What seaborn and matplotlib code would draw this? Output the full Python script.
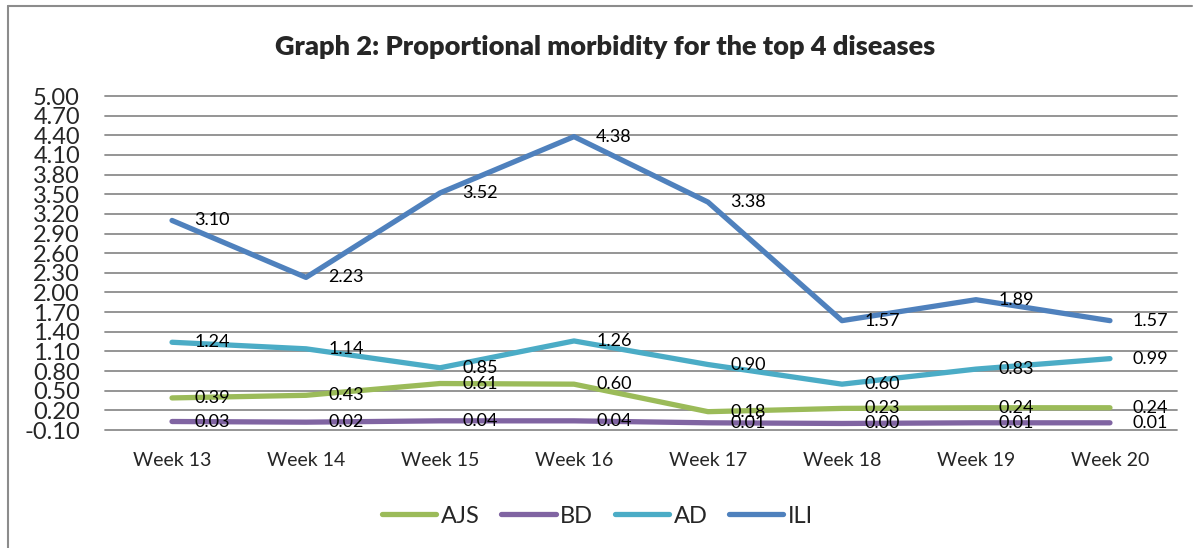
import pandas as pd
import matplotlib
matplotlib.use("Agg")
import matplotlib.pyplot as plt
import seaborn as sns
import numpy as np
from matplotlib.lines import Line2D
from matplotlib.ticker import FormatStrFormatter

weeks = ["Week 13", "Week 14", "Week 15", "Week 16", "Week 17", "Week 18", "Week 19", "Week 20"]
ajs = [0.39, 0.43, 0.61, 0.60, 0.18, 0.23, 0.24, 0.24]
bd = [0.03, 0.02, 0.04, 0.04, 0.01, 0.00, 0.01, 0.01]
ad = [1.24, 1.14, 0.85, 1.26, 0.90, 0.60, 0.83, 0.99]
ili = [3.10, 2.23, 3.52, 4.38, 3.38, 1.57, 1.89, 1.57]

diseases = ["AJS", "BD", "AD", "ILI"]
colors = {"AJS": "#9BBB59", "BD": "#8064A2", "AD": "#4BACC6", "ILI": "#4F81BD"}

# long-form table for seaborn
df = pd.DataFrame({"week": weeks, "AJS": ajs, "BD": bd, "AD": ad, "ILI": ili})
df_long = df.melt(id_vars="week", var_name="disease", value_name="value")
df_long["x"] = df_long["week"].map({w: i for i, w in enumerate(weeks)})

sns.set_theme(style="white")
plt.rcParams['font.family'] = ['Lato', 'DejaVu Sans']
plt.rcParams['axes.unicode_minus'] = False

fig = plt.figure(figsize=(11.95, 5.48), dpi=100)
ax = fig.add_axes([0.0879, 0.2153, 0.897, 0.6095])

sns.lineplot(data=df_long, x="x", y="value", hue="disease", hue_order=diseases,
             palette=colors, linewidth=3.8, ax=ax, legend=False,
             solid_capstyle='round', zorder=3)

# data labels to the right of each point
for name in diseases:
    vals = df[name].values
    for i, v in enumerate(vals):
        ax.annotate(f"{v:.2f}", (i, v), xytext=(16, 0), textcoords='offset points',
                    ha='left', va='center', fontsize=13, color='black', zorder=5)

ax.set_ylim(-0.10, 5.00)
ax.set_yticks(np.arange(-0.10, 5.01, 0.30))
ax.yaxis.set_major_formatter(FormatStrFormatter('%.2f'))
ax.set_xlim(-0.5, len(weeks) - 0.5)
ax.set_xticks(range(len(weeks)))
ax.set_xticklabels(weeks)
ax.tick_params(axis='y', labelsize=17, pad=18, length=0)
ax.tick_params(axis='x', labelsize=14, pad=16, length=0)
ax.set_xlabel("")
ax.set_ylabel("")
for s in ax.spines.values():
    s.set_visible(False)
ax.yaxis.grid(True, color='#8c8c8c', linewidth=1.3)
ax.xaxis.grid(False)
for gl in ax.get_ygridlines():
    gl.set_clip_on(False)
ax.set_axisbelow(True)

# legend at the bottom
handles = [Line2D([0], [0], color=colors[d], linewidth=3.8, solid_capstyle='round') for d in diseases]
ax.legend(handles, diseases, loc='center', bbox_to_anchor=(0.5, 0.058), bbox_transform=fig.transFigure,
          ncol=4, frameon=False, fontsize=17, handlelength=2.3, handletextpad=0.2, columnspacing=0.9)

fig.text(0.506, 0.914, "Graph 2: Proportional morbidity for the top 4 diseases",
         ha='center', va='center', fontsize=19.5, fontweight='heavy')

# chart frame (left and top edges visible)
fig.add_artist(Line2D([0.0067, 0.0067], [0.0, 0.989], transform=fig.transFigure, color='#8c8c8c', linewidth=1.5))
fig.add_artist(Line2D([0.0067, 0.9975], [0.989, 0.989], transform=fig.transFigure, color='#8c8c8c', linewidth=1.5))

fig.savefig("out.png", dpi=100)
